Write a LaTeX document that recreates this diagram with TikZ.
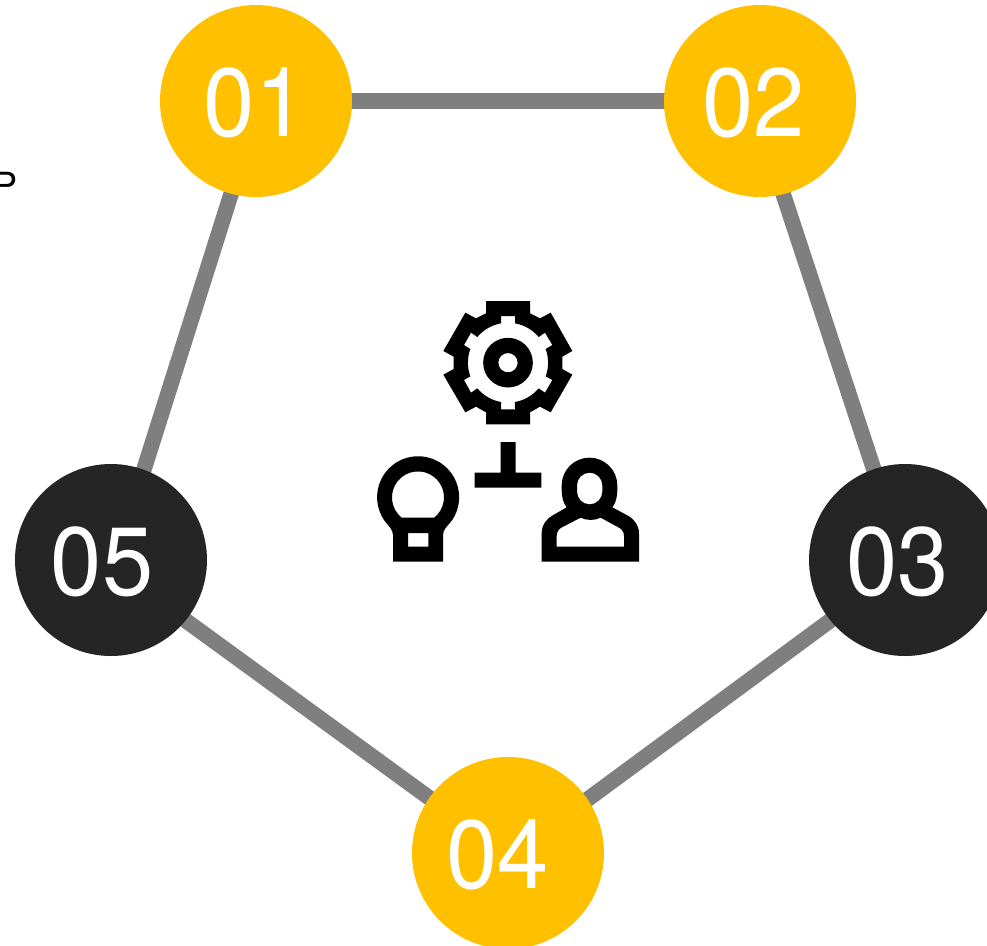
\documentclass[tikz,border=0pt]{standalone}
\usepackage{fontspec}
\setmainfont{TeX Gyre Heros}
\newfontfamily\numfont[FakeStretch=0.95]{TeX Gyre Heros}
\usetikzlibrary{backgrounds}
\definecolor{discyellow}{HTML}{FFC000}
\definecolor{discdark}{HTML}{252525}
\definecolor{linkgray}{HTML}{7F7F7F}
\tikzset{
  numtext/.style={text=white,font=\numfont\fontsize{97}{97}\selectfont,inner sep=0pt,xshift=#1,yshift=-2pt},
  numdisc/.style={circle,minimum size=192pt,inner sep=0pt,fill=#1},
  link/.style={draw=linkgray,line width=15.5pt,shorten >=-3pt,shorten <=-3pt},
  icon/.style={fill=black,even odd rule,draw=none},
}
\begin{document}
\begin{tikzpicture}[x=1pt,y=-1pt]
\useasboundingbox (0,0) rectangle (987,945);
\clip (0,0) rectangle (987,945);
\node[anchor=base west,inner sep=0pt,font=\fontsize{36}{36}\selectfont,text=black] (cut) at (-7,198) {P};
\node[numdisc=discyellow,label={[numtext=-1pt]center:01}] (n1) at (256,101) {};
\node[numdisc=discyellow,label={[numtext=-6.5pt]center:02}] (n2) at (760,101) {};
\node[numdisc=discdark,label={[numtext=-7.5pt]center:03}] (n3) at (905,560) {};
\node[numdisc=discyellow,label={[numtext=-10.5pt]center:04}] (n4) at (508,853) {};
\node[numdisc=discdark,label={[numtext=-9pt]center:05}] (n5) at (111,560) {};
\begin{scope}[on background layer]
\draw[link] (n1.east) -- (n2.west);
\draw[link] (n2.284.1) -- (n3.109.3);
\draw[link] (n3.219) -- (n4.34.4);
\draw[link] (n4.145.6) -- (n5.321);
\draw[link] (n5.70.7) -- (n1.255.9);
\end{scope}
\begin{scope}[shift={(360,290)},x=0.33333pt,y=-0.33333pt]
% gear
\path[icon]
 (378,33)--(510,33)--(510,70)--(540,85)--(572,68)--(637,183)--(607,200)--(607,237)--(637,254)--(572,367)--(540,350)--(510,367)--(510,403)--(378,403)--(378,367)--(348,350)--(316,367)--(250,254)--(281,237)--(281,200)--(250,183)--(316,68)--(348,85)--(378,70)--cycle
 (423,78)--(465,78)--(465,100) arc (-80:-40:120) --(555,128)--(577,165)--(557,177) arc (-20:20:120) --(577,270)--(555,308)--(536,295) arc (40:80:120) --(465,358)--(423,358)--(423,336) arc (100:140:120) --(333,308)--(312,270)--(331,259) arc (160:200:120) --(312,165)--(333,128)--(352,141) arc (220:260:120) --cycle
 (444,218) circle[radius=74.5]
 (444,218) circle[radius=29];
% stem
\path[icon] (422,456)--(467,456)--(467,548)--(544,548)--(544,593)--(344,593)--(344,548)--(422,548)--cycle;
% bulb
\path[icon]
 (99,815)--(99,735) .. controls (99,718) and (85,708) .. (72,690) arc (146.3:393.7:123) .. controls (263,708) and (249,718) .. (249,735)--(249,815)--cycle
 (125,683) arc (128.8:411.2:78) --cycle
 (144,729) rectangle (205,770);
% person
\path[icon]
 (545,815)--(545,730) .. controls (545,705) and (560,685) .. (580,675)--(620,652) .. controls (610,640) and (605,620) .. (605,600)--(605,586.5) arc (180:360:83.5) --(772,600) .. controls (772,620) and (767,640) .. (757,652)--(800,675) .. controls (820,685) and (837,705) .. (837,730)--(837,815)--cycle
 (651,586) arc (180:360:38) --(727,605) arc (0:180:38) --cycle
 (590,770)--(590,738) .. controls (590,725) and (597,716) .. (606,712)--(662,683) .. controls (678,692) and (706,692) .. (722,683)--(775,712) .. controls (785,717) and (792,725) .. (792,738)--(792,770)--cycle;
\end{scope}
\end{tikzpicture}
\end{document}
